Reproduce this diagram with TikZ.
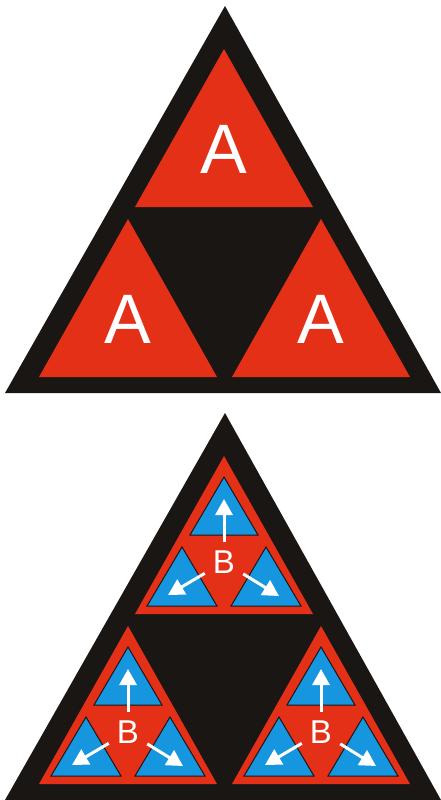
\documentclass[tikz,border=0pt]{standalone}
\usepackage{fontspec}
\setmainfont{Liberation Sans}
\usetikzlibrary{arrows.meta}
\definecolor{signred}{RGB}{228,48,22}
\definecolor{signblue}{RGB}{22,150,222}
\definecolor{signblack}{RGB}{26,22,20}

\tikzset{
  outer/.style={fill=signblack},
  redpart/.style={fill=signred},
  bluepart/.style={fill=signblue, draw=signblack, line width=1pt},
  biglabel/.style={text=white, font=\fontsize{70}{70}\selectfont, inner sep=0pt},
  smalllabel/.style={text=white, font=\fontsize{33}{33}\selectfont, inner sep=8pt},
  outarrow/.style={draw=white, line width=3pt, -{Triangle[width=17pt,length=16pt]}}
}

\begin{document}
\begin{tikzpicture}[x=1pt, y=-1pt]
  \useasboundingbox (0,0) rectangle (441,800);

  % upper sign
  \fill[outer] (5,393) -- (225,6) -- (441,393) -- cycle;
  \foreach \n/\ax/\ay in {t/224/49, l/128/219, r/321/219} {
    \fill[redpart] (\ax,\ay) -- ++(-89,158) -- ++(178,0) -- cycle;
    \node[biglabel] (a-\n) at (\ax,\ay+100) {A};
  }

  % lower sign
  \fill[outer] (5,800) -- (225,413) -- (441,800) -- cycle;
  \foreach \n/\ax/\ay in {t/224/456, l/128/626, r/321/626} {
    \fill[redpart] (\ax,\ay) -- ++(-89,158) -- ++(178,0) -- cycle;
    \draw[bluepart] (\ax,\ay+21) -- ++(-34,58) -- ++(68,0) -- cycle;
    \draw[bluepart] (\ax-42,\ay+91) -- ++(-35,59) -- ++(70,0) -- cycle;
    \draw[bluepart] (\ax+42,\ay+91) -- ++(-35,59) -- ++(70,0) -- cycle;
    \node[smalllabel] (b-\n) at (\ax,\ay+106) {B};
    \coordinate (up-\n) at (\ax,\ay+43);
    \coordinate (dl-\n) at (\ax-56,\ay+139);
    \coordinate (dr-\n) at (\ax+55,\ay+140);
    \draw[outarrow] (b-\n) -- (up-\n);
    \draw[outarrow] (b-\n) -- (dl-\n);
    \draw[outarrow] (b-\n) -- (dr-\n);
  }
\end{tikzpicture}
\end{document}
